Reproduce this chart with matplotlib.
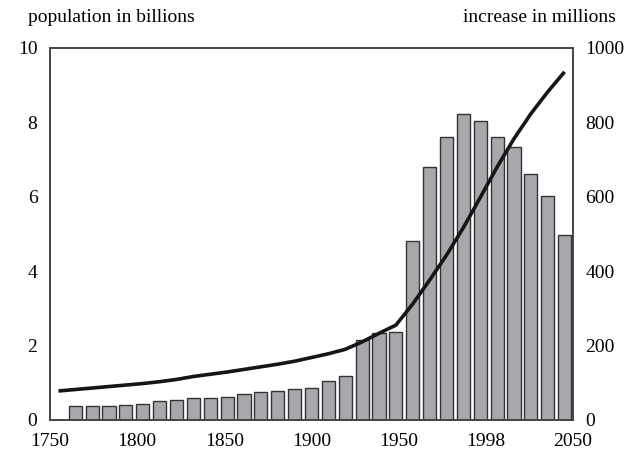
import numpy as np
import matplotlib
matplotlib.use("Agg")
import matplotlib.pyplot as plt

plt.rcParams['font.family'] = ['Liberation Serif', 'DejaVu Serif']

# decades 1750 .. 2050
years = list(range(1750, 2051, 10))

# world population, billions (one value per decade)
population = [0.78, 0.82, 0.86, 0.90, 0.94, 0.98, 1.03, 1.09, 1.17, 1.23,
              1.29, 1.36, 1.43, 1.50, 1.58, 1.68, 1.78, 1.90, 2.10, 2.33,
              2.55, 3.12, 3.76, 4.43, 5.17, 5.98, 6.80, 7.56, 8.23, 8.82,
              9.36]

# increase over the decade ending in that year, millions (1760 .. 2050)
increase = [38, 38, 38, 41, 43, 52, 54, 59, 59, 62,
            70, 75, 79, 83, 87, 106, 117, 215, 233, 237,
            482, 681, 761, 823, 805, 762, 735, 661, 602, 497]

xtick_labels = ["1750", "1800", "1850", "1900", "1950", "1998", "2050"]

fig = plt.figure(figsize=(6.4, 4.54), dpi=100)
ax = fig.add_axes([50 / 640, 34 / 454, 523 / 640, 372 / 454])
ax2 = ax.twinx()

idx = np.arange(len(years))

# bars on the right axis
ax2.bar(idx[1:], increase, width=0.78, color="#a7a8ac",
        edgecolor="#333333", linewidth=1.0)

# population line on the left axis
ax.plot(idx, population, color="#161616", linewidth=2.6,
        solid_capstyle="butt")

ax.set_zorder(ax2.get_zorder() + 1)
ax.patch.set_visible(False)

ax.set_xlim(-0.5, len(years) - 0.5)
ax.set_ylim(0, 10)
ax2.set_ylim(0, 1000)

ax.set_xticks(np.linspace(-0.5, len(years) - 0.5, len(xtick_labels)))
ax.set_xticklabels(xtick_labels)

ax.set_yticks([0, 2, 4, 6, 8, 10])
ax2.set_yticks([0, 200, 400, 600, 800, 1000])

ax.tick_params(axis="x", length=0, pad=9, labelsize=14)
ax.tick_params(axis="y", length=0, pad=9, labelsize=14)
ax2.tick_params(axis="y", length=0, pad=9, labelsize=14)

for a in (ax, ax2):
    for s in a.spines.values():
        s.set_color("#444444")
        s.set_linewidth(1.2)

fig.text(28 / 640, 1 - 17 / 454, "population in billions", fontsize=14,
         ha="left", va="center")
fig.text(616 / 640, 1 - 17 / 454, "increase in millions", fontsize=14,
         ha="right", va="center")

fig.savefig("out.png", dpi=100)
